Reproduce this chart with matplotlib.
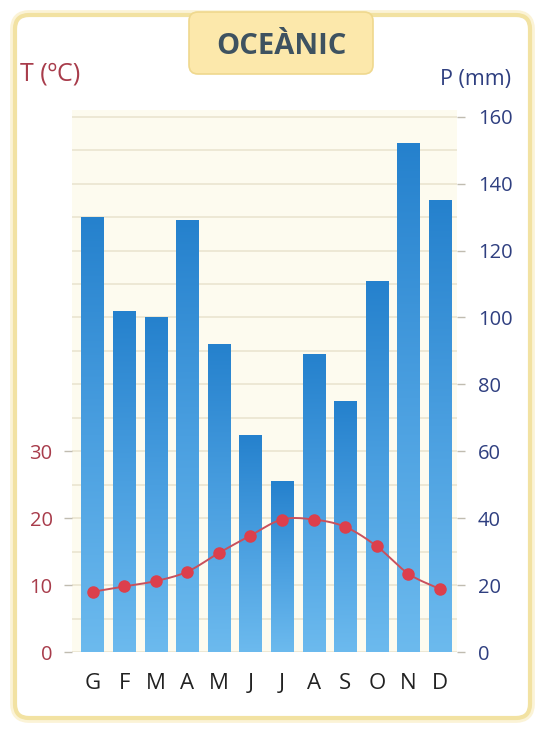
import numpy as np
import matplotlib
matplotlib.use("Agg")
import matplotlib.pyplot as plt
from matplotlib.patches import FancyBboxPatch
from matplotlib.ticker import MultipleLocator
from matplotlib.colors import LinearSegmentedColormap

# ---- data ----
months = ['G', 'F', 'M', 'A', 'M', 'J', 'J', 'A', 'S', 'O', 'N', 'D']
precip = [130, 102, 100, 129, 92, 65, 51, 89, 75, 111, 152, 135]
temp = [9.0, 9.8, 10.6, 12.0, 14.8, 17.4, 19.8, 19.8, 18.7, 15.8, 11.7, 9.4]
precip_ticks = [0, 20, 40, 60, 80, 100, 120, 140, 160]
temp_ticks = [0, 10, 20, 30]
title = "OCEÀNIC"

plt.rcParams['font.family'] = ['Open Sans', 'DejaVu Sans']

W, H = 538, 730
fig = plt.figure(figsize=(W / 100, H / 100), dpi=100)
fig.patch.set_facecolor('white')

# background axes in pixel units for the card
bg = fig.add_axes([0, 0, 1, 1], zorder=0)
bg.set_xlim(0, W)
bg.set_ylim(H, 0)
bg.axis('off')

bg.add_patch(FancyBboxPatch((15, 15), 515, 703,
                            boxstyle="round,pad=0,rounding_size=14",
                            fc='none', ec='#fbf3d6', lw=7))
bg.add_patch(FancyBboxPatch((15, 15), 515, 703,
                            boxstyle="round,pad=0,rounding_size=14",
                            fc='white', ec='#f2e2a2', lw=3))
bg.add_patch(FancyBboxPatch((189, 12), 184, 62,
                            boxstyle="round,pad=0,rounding_size=9",
                            fc='#fce8ab', ec='#efd88e', lw=1.2))
bg.text(281, 47, title, ha='center', va='center', fontsize=21,
        fontweight='bold', color='#3e5260')
bg.text(20, 74, "T (ºC)", ha='left', va='center', fontsize=18, color='#a83c4b')
bg.text(511, 80, "P (mm)", ha='right', va='center', fontsize=15.5, color='#2f3f80')

# main axes
left, right, top, bottom = 72, 457, 110, 652
ax = fig.add_axes([left / W, 1 - bottom / H, (right - left) / W, (bottom - top) / H], zorder=1)
ax.set_facecolor('#fdfbef')
ax2 = ax.twinx()

x = np.arange(len(months))

for s in list(ax.spines.values()) + list(ax2.spines.values()):
    s.set_visible(False)

# precipitation axis on the right
ax.yaxis.tick_right()
ax.yaxis.set_label_position('right')
ax.set_yticks(precip_ticks)
ax.set_yticklabels([str(v) for v in precip_ticks])
ax.yaxis.set_minor_locator(MultipleLocator(10))
ax.tick_params(axis='y', which='major', left=False, labelleft=False,
               right=True, labelright=True, length=6, width=1, color='#c0bcb0',
               labelsize=14.5, labelcolor='#2f3f80', pad=9)
ax.tick_params(axis='y', which='minor', length=0)
ax.grid(axis='y', which='both', color='#ece6d3', lw=1.3)
ax.set_axisbelow(True)

ax.set_xticks(x)
ax.set_xticklabels(months)
ax.tick_params(axis='x', length=0, labelsize=16, labelcolor='#222222', pad=15)

bars = ax.bar(x, precip, width=0.7, color='#3a8fd6', zorder=2)
cmap = LinearSegmentedColormap.from_list('b', ['#6cbaee', '#4a9fe0', '#2581cd'])
grad = np.linspace(0, 1, 256).reshape(-1, 1)
for b in bars:
    im = ax.imshow(grad, extent=[b.get_x(), b.get_x() + b.get_width(), 0, b.get_height()],
                   origin='lower', aspect='auto', cmap=cmap, zorder=3)
    im.set_clip_path(b)
ax.set_xlim(-0.65, 11.54)
ax.set_ylim(0, 162)

# temperature axis on the left
ax2.set_ylim(0, 81)
ax2.yaxis.tick_left()
ax2.set_yticks(temp_ticks)
ax2.set_yticklabels([str(v) for v in temp_ticks])
ax2.tick_params(axis='y', left=True, labelleft=True, right=False, labelright=False,
                length=6, width=1, color='#c0bcb0',
                labelsize=14.5, labelcolor='#a83c4b', pad=8)

# smooth line (Catmull-Rom through the points)
tx = np.array(x, dtype=float)
ty = np.array(temp, dtype=float)
px = np.concatenate([[2 * tx[0] - tx[1]], tx, [2 * tx[-1] - tx[-2]]])
py = np.concatenate([[2 * ty[0] - ty[1]], ty, [2 * ty[-1] - ty[-2]]])
sx, sy = [], []
for i in range(1, len(px) - 2):
    t = np.linspace(0, 1, 20)
    p0, p1, p2, p3 = py[i - 1], py[i], py[i + 1], py[i + 2]
    yy = 0.5 * ((2 * p1) + (-p0 + p2) * t + (2 * p0 - 5 * p1 + 4 * p2 - p3) * t ** 2
                + (-p0 + 3 * p1 - 3 * p2 + p3) * t ** 3)
    xx = px[i] + (px[i + 1] - px[i]) * t
    sx.extend(xx)
    sy.extend(yy)
ax2.plot(sx, sy, color='#c9505c', lw=1.4, zorder=4)
ax2.plot(x, temp, 'o', color='#dc3f4c', ms=8, zorder=5)
ax2.set_xlim(-0.65, 11.54)

fig.savefig('out.png', dpi=100, facecolor='white')
